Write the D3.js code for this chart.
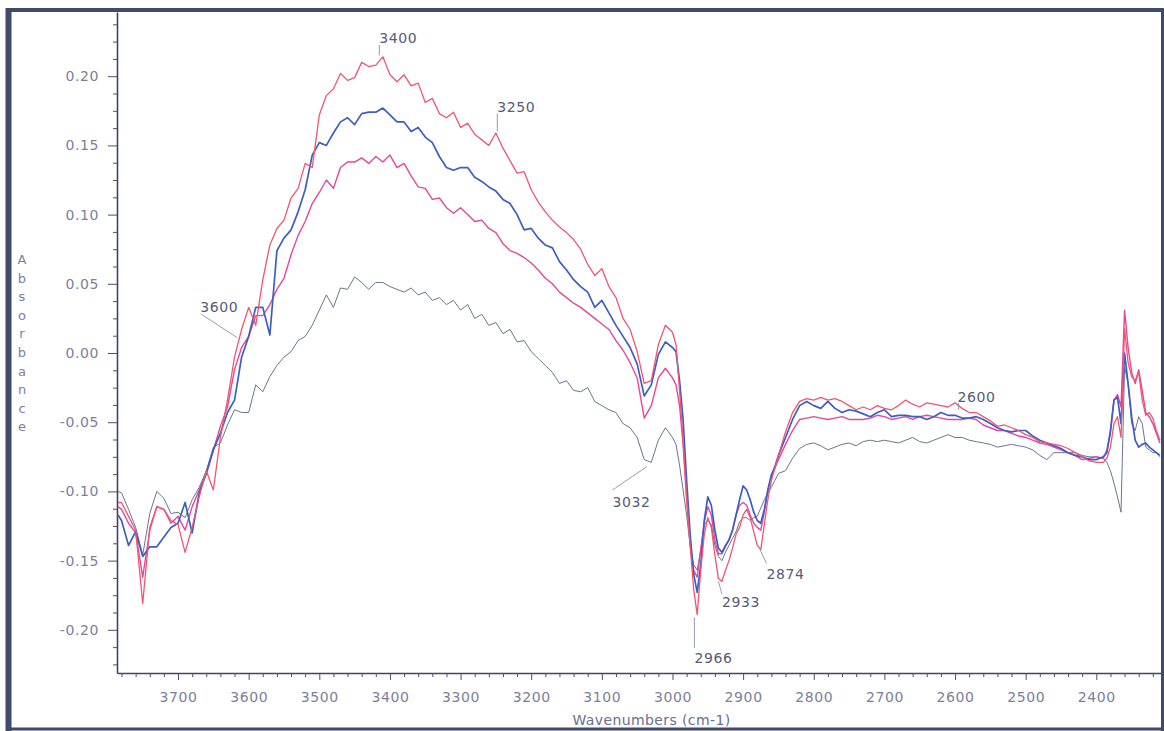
<!DOCTYPE html>
<html><head><meta charset="utf-8">
<script src="https://cdn.jsdelivr.net/npm/d3@7"></script>
<style>body{margin:0;background:#fff;} svg{display:block;}</style>
</head><body>
<svg id="chart" width="1164" height="731"></svg>
<script>
// ---- data (wavenumbers in cm-1, absorbance values) ----
const wavenumbers = [3785,
 3780,3770,3760,3750,3740,3730,3720,3710,3700,3690,3680,3670,3660,3650,3640,3630,3620,3610,3600,3590,
 3580,3570,3560,3550,3540,3530,3520,3510,3500,3490,3480,3470,3460,3450,3440,3430,3420,3410,3400,3390,
 3380,3370,3360,3350,3340,3330,3320,3310,3300,3290,3280,3270,3260,3250,3240,3230,3220,3210,3200,3190,
 3180,3170,3160,3150,3140,3130,3120,3110,3100,3090,3080,3070,3060,3050,3040,3030,3020,3010,3000,
 2995,2990,2985,2980,2975,2970,2965,2960,2955,2950,2945,2940,2935,2930,2925,2920,2915,2910,2905,2900,
 2895,2890,2885,2880,2875,2870,2865,2860,2855,2850,
 2840,2830,2820,2810,2800,2790,2780,2770,2760,2750,2740,2730,2720,2710,2700,2690,2680,2670,2660,2650,
 2640,2630,2620,2610,2600,2590,2580,2570,2560,2550,2540,2530,2520,2510,2500,2490,2480,2470,2460,2450,
 2440,2430,2420,2410,2400,2390,
 2385,2380,2375,2370,2365,2360,2355,2350,2345,2340,2335,2330,2325,2320,2315,2310];

const seriesRed = [
 -0.108,-0.108,-0.118,-0.128,-0.181,-0.126,-0.111,-0.113,-0.121,-0.124,
 -0.144,-0.126,-0.104,-0.085,-0.099,-0.061,-0.034,-0.003,0.017,0.033,
 0.020,0.053,0.078,0.090,0.096,0.112,0.119,0.137,0.134,0.172,
 0.186,0.191,0.202,0.197,0.199,0.210,0.207,0.208,0.214,0.201,
 0.196,0.201,0.193,0.195,0.181,0.184,0.173,0.170,0.174,0.163,
 0.166,0.158,0.154,0.150,0.159,0.148,0.139,0.130,0.131,0.118,
 0.109,0.102,0.096,0.091,0.087,0.082,0.075,0.064,0.056,0.061,
 0.048,0.040,0.025,0.017,0.001,-0.022,-0.020,0.006,0.020,0.015,
 0.006,-0.027,-0.063,-0.103,-0.139,-0.171,-0.189,-0.157,-0.131,-0.119,
 -0.126,-0.146,-0.163,-0.165,-0.157,-0.150,-0.141,-0.131,-0.126,-0.117,
 -0.113,-0.119,-0.129,-0.139,-0.142,-0.124,-0.106,-0.092,-0.083,-0.074,
 -0.057,-0.043,-0.035,-0.033,-0.034,-0.032,-0.034,-0.033,-0.035,-0.038,
 -0.041,-0.039,-0.041,-0.038,-0.040,-0.041,-0.038,-0.034,-0.037,-0.039,
 -0.036,-0.037,-0.038,-0.039,-0.036,-0.040,-0.043,-0.043,-0.046,-0.049,
 -0.053,-0.052,-0.054,-0.056,-0.059,-0.061,-0.064,-0.065,-0.066,-0.067,
 -0.069,-0.072,-0.075,-0.078,-0.079,-0.079,
 -0.076,-0.068,-0.051,-0.046,-0.061,0.018,-0.007,-0.017,-0.020,-0.014,-0.034,-0.045,-0.043,-0.047,-0.056,-0.063];

const seriesBlue = [
 -0.117,-0.121,-0.139,-0.129,-0.147,-0.140,-0.140,-0.133,-0.126,-0.123,
 -0.108,-0.130,-0.101,-0.087,-0.070,-0.058,-0.043,-0.034,-0.003,0.012,
 0.033,0.033,0.013,0.074,0.083,0.089,0.102,0.118,0.143,0.152,
 0.150,0.159,0.167,0.170,0.165,0.173,0.174,0.174,0.177,0.172,
 0.167,0.167,0.160,0.163,0.156,0.152,0.142,0.134,0.132,0.134,
 0.134,0.127,0.124,0.120,0.117,0.111,0.108,0.100,0.089,0.090,
 0.083,0.078,0.076,0.066,0.060,0.053,0.048,0.044,0.033,0.038,
 0.029,0.020,0.012,0.004,-0.008,-0.031,-0.023,-0.001,0.008,0.004,
 0.001,-0.020,-0.048,-0.092,-0.131,-0.160,-0.173,-0.153,-0.121,-0.104,
 -0.110,-0.128,-0.141,-0.144,-0.139,-0.135,-0.128,-0.117,-0.106,-0.096,
 -0.099,-0.106,-0.115,-0.121,-0.123,-0.113,-0.099,-0.088,-0.082,-0.074,
 -0.061,-0.048,-0.038,-0.035,-0.038,-0.040,-0.035,-0.040,-0.043,-0.041,
 -0.042,-0.044,-0.046,-0.043,-0.041,-0.046,-0.045,-0.045,-0.046,-0.046,
 -0.048,-0.046,-0.043,-0.045,-0.045,-0.047,-0.047,-0.046,-0.048,-0.051,
 -0.054,-0.056,-0.057,-0.056,-0.056,-0.060,-0.063,-0.065,-0.067,-0.069,
 -0.072,-0.074,-0.075,-0.077,-0.077,-0.075,
 -0.072,-0.056,-0.034,-0.032,-0.051,0.000,-0.022,-0.046,-0.063,-0.068,-0.066,-0.065,-0.068,-0.070,-0.072,-0.074];

const seriesMagenta = [
 -0.111,-0.113,-0.123,-0.130,-0.162,-0.128,-0.111,-0.113,-0.123,-0.118,
 -0.128,-0.111,-0.099,-0.087,-0.070,-0.053,-0.039,-0.012,0.004,0.012,
 0.027,0.027,0.035,0.046,0.054,0.071,0.085,0.095,0.108,0.116,
 0.125,0.119,0.134,0.138,0.138,0.141,0.137,0.142,0.138,0.143,
 0.134,0.137,0.128,0.120,0.119,0.111,0.112,0.105,0.101,0.105,
 0.100,0.095,0.096,0.090,0.087,0.079,0.074,0.072,0.069,0.065,
 0.060,0.054,0.050,0.044,0.040,0.036,0.033,0.029,0.025,0.021,
 0.017,0.009,0.002,-0.007,-0.018,-0.047,-0.038,-0.018,-0.011,-0.018,
 -0.023,-0.038,-0.066,-0.106,-0.139,-0.157,-0.162,-0.142,-0.122,-0.111,
 -0.117,-0.135,-0.145,-0.145,-0.140,-0.135,-0.128,-0.117,-0.110,-0.108,
 -0.110,-0.117,-0.123,-0.126,-0.128,-0.115,-0.099,-0.090,-0.083,-0.077,
 -0.066,-0.056,-0.048,-0.047,-0.046,-0.047,-0.048,-0.047,-0.046,-0.048,
 -0.048,-0.048,-0.047,-0.045,-0.046,-0.048,-0.047,-0.046,-0.048,-0.046,
 -0.045,-0.046,-0.047,-0.048,-0.048,-0.048,-0.047,-0.048,-0.052,-0.054,
 -0.056,-0.056,-0.058,-0.060,-0.061,-0.063,-0.065,-0.066,-0.068,-0.070,
 -0.072,-0.074,-0.077,-0.076,-0.075,-0.076,
 -0.070,-0.058,-0.034,-0.030,-0.039,0.031,0.004,-0.014,-0.022,-0.012,-0.027,-0.043,-0.046,-0.051,-0.058,-0.065];

const seriesGray = [
 -0.100,-0.101,-0.113,-0.126,-0.146,-0.116,-0.100,-0.105,-0.116,-0.115,
 -0.119,-0.106,-0.097,-0.085,-0.068,-0.065,-0.052,-0.041,-0.043,-0.043,
 -0.023,-0.028,-0.017,-0.009,-0.003,0.001,0.009,0.012,0.020,0.031,
 0.042,0.033,0.047,0.046,0.055,0.051,0.046,0.051,0.051,0.048,
 0.046,0.044,0.047,0.042,0.044,0.038,0.040,0.035,0.038,0.031,
 0.035,0.025,0.028,0.020,0.022,0.014,0.017,0.008,0.009,0.001,
 -0.004,-0.009,-0.014,-0.022,-0.020,-0.027,-0.028,-0.025,-0.035,-0.038,
 -0.041,-0.043,-0.051,-0.054,-0.061,-0.077,-0.079,-0.063,-0.054,-0.061,
 -0.066,-0.081,-0.099,-0.117,-0.139,-0.153,-0.157,-0.142,-0.124,-0.121,
 -0.124,-0.139,-0.147,-0.150,-0.144,-0.139,-0.134,-0.129,-0.122,-0.119,
 -0.119,-0.121,-0.119,-0.118,-0.112,-0.106,-0.101,-0.097,-0.092,-0.087,
 -0.085,-0.076,-0.069,-0.066,-0.065,-0.067,-0.070,-0.068,-0.066,-0.065,
 -0.067,-0.064,-0.063,-0.064,-0.063,-0.064,-0.065,-0.063,-0.061,-0.064,
 -0.065,-0.063,-0.061,-0.059,-0.061,-0.061,-0.063,-0.064,-0.065,-0.066,
 -0.068,-0.067,-0.066,-0.067,-0.068,-0.070,-0.074,-0.077,-0.072,-0.072,
 -0.072,-0.072,-0.074,-0.075,-0.075,-0.076,
 -0.079,-0.085,-0.094,-0.104,-0.115,-0.010,-0.022,-0.051,-0.056,-0.046,-0.051,-0.068,-0.070,-0.072,-0.072,-0.075];

const xTicks = [3700,3600,3500,3400,3300,3200,3100,3000,2900,2800,2700,2600,2500,2400];
const xTickLabels = ["3700","3600","3500","3400","3300","3200","3100","3000","2900","2800","2700","2600","2500","2400"];
const xMinorTicks = [3780,3760,3740,3720,3680,3660,3640,3620,3580,3560,3540,3520,3480,3460,3440,3420,
 3380,3360,3340,3320,3280,3260,3240,3220,3180,3160,3140,3120,3080,3060,3040,3020,2980,2960,2940,2920,
 2880,2860,2840,2820,2780,2760,2740,2720,2680,2660,2640,2620,2580,2560,2540,2520,2480,2460,2440,2420,2380,2360,2340,2320];
const yTicks = [0.20,0.15,0.10,0.05,0.00,-0.05,-0.10,-0.15,-0.20];
const yTickLabels = ["0.20","0.15","0.10","0.05","0.00","-0.05","-0.10","-0.15","-0.20"];
const yMinorTicks = [0.2375,0.225,0.2125,0.1875,0.175,0.1625,0.1375,0.125,0.1125,0.0875,0.075,0.0625,
 0.0375,0.025,0.0125,-0.0125,-0.025,-0.0375,-0.0625,-0.075,-0.0875,-0.1125,-0.125,-0.1375,
 -0.1625,-0.175,-0.1875,-0.2125,-0.225];

// peak labels: leader from (w1,v1) to (w2,v2), text placed at the leader end
const annLabels = ["3400","3250","3600","3032","2966","2933","2874","2600"];
const annFrom = [[3415,0.215],[3248,0.160],[3616,0.011],[3036,-0.082],[2969,-0.191],[2935,-0.165],[2876,-0.142],[2595,-0.041]];
const annTo   = [[3415,0.2225],[3248,0.173],[3667,0.028],[3085,-0.099],[2969,-0.213],[2930,-0.174],[2867,-0.152],[2595,-0.036]];
const annDy   = [-2,-2,-2,17,15,13,16,-1];
const annDx   = [0,0,-1,0,0,0,0,-1];

const seriesList = [
  {name:"gray", values: seriesGray, color:"#6d7390", width:1.0},
  {name:"magenta", values: seriesMagenta, color:"#e3489c", width:1.4},
  {name:"blue", values: seriesBlue, color:"#3d5ec0", width:1.7},
  {name:"red", values: seriesRed, color:"#ee5672", width:1.3}
];

// ---- drawing ----
const svg = d3.select("#chart");
const L = 117, R = 1162, T = 12, B = 673;
const x = d3.scaleLinear().domain([3786.4, 2307]).range([L, R]);
const y = d3.scaleLinear().domain([-0.2312, 0.2464]).range([B, T]);

svg.append("rect").attr("width",1164).attr("height",731).attr("fill","#fff");

svg.append("defs").append("clipPath").attr("id","clip")
  .append("rect").attr("x",L).attr("y",T).attr("width",R-L).attr("height",B-T);

const tickColor = "#7b7f99";
const font = "'DejaVu Sans', 'Liberation Sans', Arial, sans-serif";

// y axis
const gy = svg.append("g").attr("transform",`translate(${L},0)`);
gy.call(d3.axisLeft(y).tickValues(yTicks).tickSize(9).tickPadding(9).tickSizeOuter(0)
  .tickFormat((d,i)=>yTickLabels[i]));
const gyMinor = svg.append("g").attr("transform",`translate(${L},0)`);
gyMinor.call(d3.axisLeft(y).tickValues(yMinorTicks).tickSize(4).tickSizeOuter(0).tickFormat(""));
gyMinor.select(".domain").remove();

// x axis
const gx = svg.append("g").attr("transform",`translate(0,${B})`);
gx.call(d3.axisBottom(x).tickValues(xTicks).tickSize(7).tickPadding(12).tickSizeOuter(0)
  .tickFormat((d,i)=>xTickLabels[i]));
const gxMinor = svg.append("g").attr("transform",`translate(0,${B})`);
gxMinor.call(d3.axisBottom(x).tickValues(xMinorTicks).tickSize(4).tickSizeOuter(0).tickFormat(""));
gxMinor.select(".domain").remove();

svg.selectAll(".domain").attr("stroke","#3e4660").attr("stroke-width",1.6);
svg.selectAll(".tick line").attr("stroke","#4a5068").attr("stroke-width",1);
svg.selectAll(".tick text").attr("fill",tickColor).attr("font-family",font)
  .attr("font-size",14).attr("letter-spacing","0.6px");

// axis titles
svg.append("text").attr("x",(L+R)/2+12).attr("y",725).attr("text-anchor","middle")
  .attr("font-family",font).attr("font-size",14).attr("fill","#6a6f8e").attr("letter-spacing","0.4px")
  .text("Wavenumbers (cm-1)");
const yTitle = "Absorbance".split("");
svg.append("g").selectAll("text").data(yTitle).join("text")
  .attr("x",22).attr("y",(d,i)=>264+i*18.6).attr("text-anchor","middle")
  .attr("font-family",font).attr("font-size",13).attr("fill","#7b7f99")
  .text(d=>d);

// spectra
const line = d3.line().x((d,i)=>x(wavenumbers[i])).y(d=>y(d));
const gl = svg.append("g").attr("clip-path","url(#clip)");
gl.selectAll("path").data(seriesList).join("path")
  .attr("d",d=>line(d.values)).attr("fill","none")
  .attr("stroke",d=>d.color).attr("stroke-width",d=>d.width)
  .attr("stroke-linejoin","round");

// annotations
const ga = svg.append("g");
annLabels.forEach((lab,i)=>{
  ga.append("line").attr("x1",x(annFrom[i][0])).attr("y1",y(annFrom[i][1]))
    .attr("x2",x(annTo[i][0])).attr("y2",y(annTo[i][1]))
    .attr("stroke","#8c90a8").attr("stroke-width",0.9);
  ga.append("text").attr("x",x(annTo[i][0])+annDx[i]).attr("y",y(annTo[i][1])+annDy[i])
    .attr("font-family",font).attr("font-size",14).attr("fill","#555b78").attr("letter-spacing","0.6px")
    .text(lab);
});

// outer frame
const frame = svg.append("g").attr("stroke","#3f4b68").attr("fill","none");
frame.append("line").attr("x1",8.5).attr("x2",8.5).attr("y1",8).attr("y2",731).attr("stroke-width",6);
frame.append("line").attr("x1",6).attr("x2",1164).attr("y1",10).attr("y2",10).attr("stroke-width",4);
frame.append("line").attr("x1",1162.5).attr("x2",1162.5).attr("y1",8).attr("y2",731).attr("stroke-width",3);
frame.append("line").attr("x1",6).attr("x2",1164).attr("y1",729).attr("y2",729).attr("stroke-width",3);
</script>
</body></html>
